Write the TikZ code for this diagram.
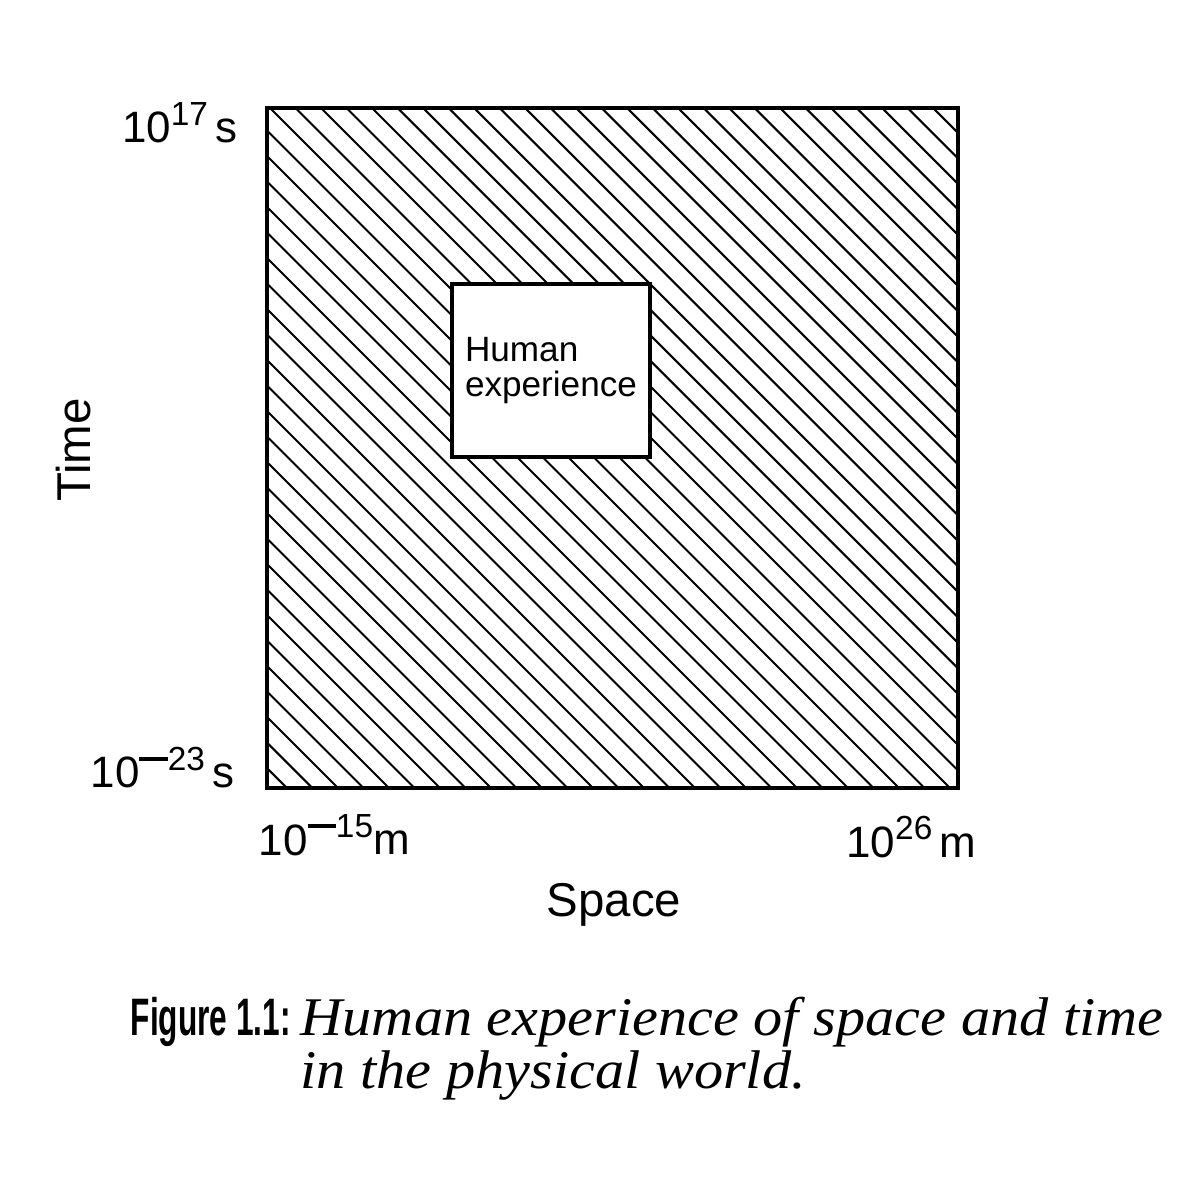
\documentclass[tikz,border=0pt]{standalone}
\usepackage{fontspec}
\setmainfont{Liberation Sans}
\newfontfamily\capsans[FakeStretch=0.6]{Liberation Sans}
\newfontfamily\capserif[FakeStretch=1.07]{Liberation Serif}
\tikzset{
  hatch/.style={line width=0.6pt},
  frame/.style={line width=1.4pt},
  tick/.style={inner sep=0pt,font=\fontsize{12.5}{14}\selectfont},
  axis/.style={inner sep=0pt,font=\fontsize{13.5}{15}\selectfont},
}
\newcommand{\expo}[1]{\raisebox{0.75ex}{\fontsize{9.5}{10}\selectfont#1}}
\newcommand{\minus}{\rule[0.3em]{0.85em}{0.11em}}
\begin{document}
\begin{tikzpicture}
\useasboundingbox (0,0) rectangle (12,12);
% hatched region
\begin{scope}
\clip (2.67,4.12) rectangle (9.58,10.92);
\foreach \k in {-27,...,27}
  \draw[hatch] ({2.62+0.255*\k},11) -- ({9.62+0.255*\k},4);
\end{scope}
\draw[frame] (2.67,4.12) rectangle (9.58,10.92);
\node[draw,fill=white,line width=1.3pt,minimum width=1.98cm,minimum height=1.73cm,
  align=left,inner sep=0pt,font=\fontsize{10}{10}\selectfont] (human) at (5.51,8.295)
  {Human\\experience};
% axis labels
\node[tick,anchor=base east] (t17) at (2.38,10.57) {10\expo{17}\,s};
\node[tick,anchor=base east] (t23) at (2.35,4.12) {10\expo{\minus23}\,s};
\node[tick,anchor=base west] (m15) at (2.58,3.45) {10\expo{\minus15}m};
\node[tick,anchor=base east] (m26) at (9.77,3.43) {10\expo{26}\,m};
\node[axis,anchor=base] (space) at (6.14,2.83) {Space};
\node[axis,anchor=base,rotate=90] (time) at (0.90,7.50) {Time};
% caption
\node[inner sep=0pt,anchor=base west,font=\capsans\bfseries\fontsize{15}{17}\selectfont]
  (fig) at (1.30,1.65) {Figure 1.1:};
\node[inner sep=0pt,anchor=base west,font=\capserif\itshape\fontsize{15.5}{17}\selectfont]
  (cap1) at (3.00,1.65) {Human experience of space and time};
\node[inner sep=0pt,anchor=base west,font=\capserif\itshape\fontsize{15.5}{17}\selectfont]
  (cap2) at (3.00,1.12) {in the physical world.};
\end{tikzpicture}
\end{document}
